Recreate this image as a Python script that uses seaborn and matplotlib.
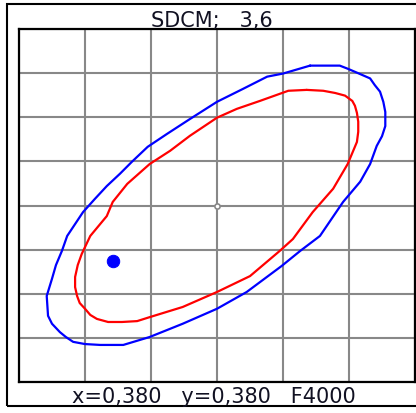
import numpy as np
import pandas as pd
import seaborn as sns
import matplotlib.pyplot as plt
from matplotlib.patches import Rectangle

# outline points of the two tolerance ellipses (grid units, x 0..6, y 0..8)
blue_x = [4.41, 4.86, 4.98, 5.09, 5.32, 5.39, 5.47, 5.52, 5.55, 5.55, 5.50, 5.42,
          5.32, 5.17, 4.91, 4.56, 4.26, 3.98, 3.45, 3.00, 2.48, 1.98, 1.58, 1.38,
          1.23, 1.00, 0.82, 0.71, 0.62, 0.50, 0.44, 0.42, 0.50, 0.56, 0.65, 0.73,
          0.97, 1.15, 1.33, 1.53, 1.71, 1.95, 2.24, 2.59, 3.00, 3.39, 3.76, 4.00,
          4.41]
blue_y = [7.17, 7.17, 7.10, 7.03, 6.88, 6.73, 6.58, 6.35, 6.12, 5.80, 5.57, 5.35,
          4.94, 4.54, 4.08, 3.31, 2.97, 2.63, 2.04, 1.66, 1.32, 1.02, 0.84, 0.84,
          0.84, 0.86, 0.91, 1.02, 1.13, 1.32, 1.50, 1.95, 2.34, 2.65, 2.97, 3.31,
          3.85, 4.15, 4.44, 4.72, 4.99, 5.33, 5.62, 5.96, 6.35, 6.64, 6.92, 6.99,
          7.17]

red_x = [4.36, 4.61, 4.79, 4.94, 5.05, 5.09, 5.12, 5.14, 5.14, 5.12, 4.98, 4.76,
         4.45, 4.15, 3.95, 3.50, 3.00, 2.48, 1.98, 1.79, 1.56, 1.35, 1.18, 1.08,
         1.00, 0.92, 0.88, 0.85, 0.85, 0.89, 0.95, 1.08, 1.33, 1.42, 1.64, 1.98,
         2.29, 2.59, 3.00, 3.30, 3.65, 4.08, 4.36]
red_y = [6.62, 6.60, 6.55, 6.49, 6.37, 6.26, 6.10, 5.90, 5.67, 5.44, 4.94, 4.38,
         3.85, 3.24, 2.97, 2.40, 2.04, 1.70, 1.47, 1.38, 1.36, 1.36, 1.43, 1.52,
         1.66, 1.79, 1.95, 2.15, 2.38, 2.65, 2.90, 3.31, 3.76, 4.08, 4.49, 4.94,
         5.24, 5.58, 5.99, 6.19, 6.37, 6.60, 6.62]

point_x = [1.42]
point_y = [2.74]
center_x = [3.0]
center_y = [4.0]

title = "SDCM;   3,6"
footer = "x=0,380   y=0,380   F4000"

sns.set_style("white")

fig = plt.figure(figsize=(4.16, 4.14), dpi=100)
fig.patches.append(Rectangle((7 / 416, 7 / 414), 1.0, 402 / 414,
                             transform=fig.transFigure, fill=False,
                             edgecolor="black", linewidth=1.5, zorder=0))

ax = fig.add_axes([19 / 416, 31 / 414, 396 / 416, 353 / 414])

blue = pd.DataFrame({"x": blue_x, "y": blue_y})
red = pd.DataFrame({"x": red_x, "y": red_y})

sns.lineplot(data=blue, x="x", y="y", sort=False, estimator=None,
             color="#0000ff", linewidth=1.6, ax=ax, zorder=3)
sns.lineplot(data=red, x="x", y="y", sort=False, estimator=None,
             color="#ff0000", linewidth=1.6, ax=ax, zorder=3)
sns.scatterplot(x=point_x, y=point_y, color="#0000ff", s=80,
                edgecolor="#0000ff", ax=ax, zorder=4)
sns.scatterplot(x=center_x, y=center_y, color="white", s=14,
                edgecolor="#888888", linewidth=1.2, ax=ax, zorder=4)

ax.set_xlim(0, 6)
ax.set_ylim(0, 8)
ax.set_xticks(np.arange(0, 7))
ax.set_yticks(np.arange(0, 9))
ax.grid(True, color="#888888", linewidth=1.5)
ax.set_axisbelow(True)
ax.tick_params(length=0, labelbottom=False, labelleft=False)
ax.set_xlabel("")
ax.set_ylabel("")
for s in ax.spines.values():
    s.set_color("black")
    s.set_linewidth(1.6)

fig.text(212 / 416, 1 - 21 / 414, title, ha="center", va="center",
         fontsize=15, color="#111122", family="DejaVu Sans", zorder=5)
fig.text(214 / 416, 17 / 414, footer, ha="center", va="center",
         fontsize=15, color="#111122", family="DejaVu Sans")

fig.savefig("out.png", dpi=100)
